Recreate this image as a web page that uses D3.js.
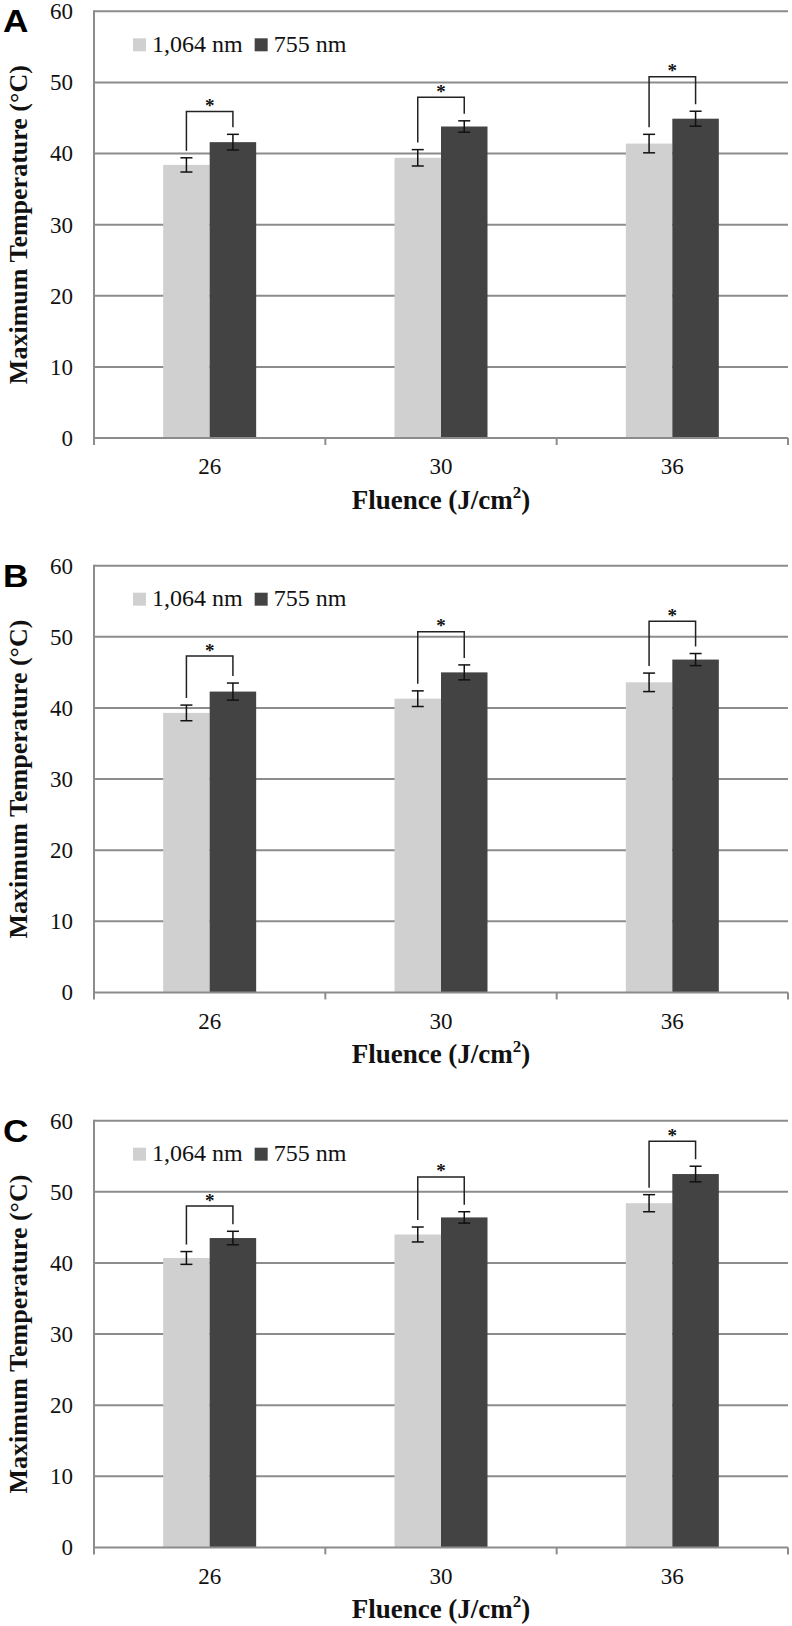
<!DOCTYPE html>
<html>
<head>
<meta charset="utf-8">
<script src="https://cdn.jsdelivr.net/npm/d3@7"></script>
<style>
  body { margin: 0; background: #fff; }
  svg { display: block; }
</style>
</head>
<body>
<svg id="chart" width="792" height="1626"></svg>
<script>
// Chart values
const categories = ["26", "30", "36"];
const series = ["1,064 nm", "755 nm"];
const yTicks = [0, 10, 20, 30, 40, 50, 60];
const panelLabels = ["A", "B", "C"];

// Panel A
const a1064 = [38.4, 39.4, 41.4];
const a1064Err = [1.0, 1.15, 1.3];
const a755 = [41.6, 43.8, 44.9];
const a755Err = [1.1, 0.8, 1.05];
const aBracket = [45.9, 47.9, 50.8];

// Panel B
const b1064 = [39.3, 41.3, 43.6];
const b1064Err = [1.1, 1.1, 1.3];
const b755 = [42.3, 45.0, 46.8];
const b755Err = [1.2, 1.05, 0.85];
const bBracket = [47.3, 50.7, 52.2];

// Panel C
const c1064 = [40.7, 44.0, 48.4];
const c1064Err = [0.9, 1.05, 1.2];
const c755 = [43.5, 46.4, 52.5];
const c755Err = [0.95, 0.8, 1.1];
const cBracket = [48.0, 52.1, 57.1];

const panels = [
    {label: panelLabels[0], values: [a1064, a755], errors: [a1064Err, a755Err], bracket: aBracket},
    {label: panelLabels[1], values: [b1064, b755], errors: [b1064Err, b755Err], bracket: bBracket},
    {label: panelLabels[2], values: [c1064, c755], errors: [c1064Err, c755Err], bracket: cBracket}
];

// layout
const svg = d3.select("#chart"),
    left = 94,
    right = 788,
    plotH = 426.7,
    panelTops = [11.3, 565.7, 1120.7];

const serif = "'Liberation Serif', 'Times New Roman', serif";
const gridColor = "#8c8c8c";
const colors = ["#d0d0d0", "#434343"];

const x = d3.scaleBand().domain(categories).range([left, right]);
const bw = x.bandwidth();
const barW = 46.5;
const xs = d3.scaleBand().domain(series).range([bw / 2 - barW, bw / 2 + barW]);

panels.forEach(function (p, i) {
    const top = panelTops[i],
        base = top + plotH;
    const y = d3.scaleLinear().domain([0, 60]).range([base, top]);
    const g = svg.append("g");

    // gridlines
    g.selectAll("line.grid")
        .data(yTicks.filter(d => d > 0))
        .join("line")
        .attr("class", "grid")
        .attr("x1", left).attr("x2", right)
        .attr("y1", d => y(d)).attr("y2", d => y(d))
        .attr("stroke", gridColor).attr("stroke-width", 2);

    // y tick labels
    const ya = g.append("g")
        .attr("transform", "translate(" + left + ",0)")
        .call(d3.axisLeft(y).tickValues(yTicks).tickSize(0).tickPadding(21).tickFormat(d3.format("d")));
    ya.select(".domain").remove();
    ya.selectAll("text").attr("font-family", serif).attr("font-size", 23).attr("fill", "#111");

    // bars
    const groups = g.selectAll("g.cat")
        .data(categories)
        .join("g")
        .attr("class", "cat")
        .attr("transform", d => "translate(" + x(d) + ",0)");

    groups.each(function (cat, ci) {
        const cg = d3.select(this);
        const rows = series.map((s, si) => ({s: s, si: si, v: p.values[si][ci], e: p.errors[si][ci]}));

        cg.selectAll("rect")
            .data(rows)
            .join("rect")
            .attr("x", d => xs(d.s))
            .attr("width", xs.bandwidth())
            .attr("y", d => y(d.v))
            .attr("height", d => base - y(d.v))
            .attr("fill", d => colors[d.si]);

        // error bars
        const eb = cg.selectAll("g.err")
            .data(rows)
            .join("g")
            .attr("class", "err")
            .attr("stroke", "#111")
            .attr("stroke-width", 1.5);
        const cx = d => xs(d.s) + xs.bandwidth() / 2;
        eb.append("line")
            .attr("x1", cx).attr("x2", cx)
            .attr("y1", d => y(d.v + d.e)).attr("y2", d => y(d.v - d.e));
        eb.append("line")
            .attr("x1", d => cx(d) - 6).attr("x2", d => cx(d) + 6)
            .attr("y1", d => y(d.v + d.e)).attr("y2", d => y(d.v + d.e));
        eb.append("line")
            .attr("x1", d => cx(d) - 6).attr("x2", d => cx(d) + 6)
            .attr("y1", d => y(d.v - d.e)).attr("y2", d => y(d.v - d.e));

        // significance bracket
        const by = y(p.bracket[ci]);
        const pts = rows.map(d => [cx(d), y(d.v + d.e) - 7]);
        cg.append("path")
            .attr("d", "M" + pts[0][0] + "," + pts[0][1] + "V" + by + "H" + pts[1][0] + "V" + pts[1][1])
            .attr("fill", "none")
            .attr("stroke", "#222")
            .attr("stroke-width", 1.5);
        cg.append("text")
            .attr("x", (pts[0][0] + pts[1][0]) / 2)
            .attr("y", by + 0.5)
            .attr("text-anchor", "middle")
            .attr("font-family", serif)
            .attr("font-weight", "bold")
            .attr("font-size", 19)
            .attr("fill", "#111")
            .text("*");
    });

    // x axis line and boundary ticks
    g.append("line")
        .attr("x1", left).attr("x2", right)
        .attr("y1", base).attr("y2", base)
        .attr("stroke", gridColor).attr("stroke-width", 2);
    g.append("line")
        .attr("x1", left).attr("x2", left)
        .attr("y1", top - 1).attr("y2", base + 7)
        .attr("stroke", gridColor).attr("stroke-width", 2);
    g.selectAll("line.btick")
        .data(categories.slice(1).map(c => x(c)).concat([right]))
        .join("line")
        .attr("class", "btick")
        .attr("x1", d => d).attr("x2", d => d)
        .attr("y1", base).attr("y2", base + 7)
        .attr("stroke", gridColor).attr("stroke-width", 2);

    const xa = g.append("g")
        .attr("transform", "translate(0," + base + ")")
        .call(d3.axisBottom(x).tickSize(0).tickPadding(20));
    xa.select(".domain").remove();
    xa.selectAll("text").attr("font-family", serif).attr("font-size", 23).attr("fill", "#111");

    // x title
    const xt = g.append("text")
        .attr("x", (left + right) / 2)
        .attr("y", base + 71)
        .attr("text-anchor", "middle")
        .attr("font-family", serif)
        .attr("font-weight", "bold")
        .attr("font-size", 27)
        .attr("fill", "#111");
    xt.append("tspan").text("Fluence (J/cm");
    xt.append("tspan").attr("font-size", 17).attr("dy", -11).text("2");
    xt.append("tspan").attr("dy", 11).text(")");

    // y title
    g.append("text")
        .attr("transform", "translate(27," + (top + base) / 2 + ") rotate(-90)")
        .attr("text-anchor", "middle")
        .attr("font-family", serif)
        .attr("font-weight", "bold")
        .attr("font-size", 26)
        .attr("fill", "#111")
        .text("Maximum Temperature (°C)");

    // panel letter
    g.append("text")
        .attr("transform", "translate(3," + (top + 21) + ") scale(1.1,1)")
        .attr("font-family", "'Liberation Sans', Arial, sans-serif")
        .attr("font-weight", "bold")
        .attr("font-size", 32)
        .attr("fill", "#000")
        .text(p.label);

    // legend
    let lx = 133;
    series.forEach(function (s, si) {
        g.append("rect")
            .attr("x", lx).attr("y", top + 27)
            .attr("width", 13).attr("height", 13)
            .attr("fill", colors[si]);
        const t = g.append("text")
            .attr("x", lx + 19)
            .attr("y", top + 40.5)
            .attr("font-family", serif)
            .attr("font-size", 24)
            .attr("fill", "#111")
            .text(s);
        lx += 19 + t.node().getComputedTextLength() + 12;
    });
});
</script>
</body>
</html>
